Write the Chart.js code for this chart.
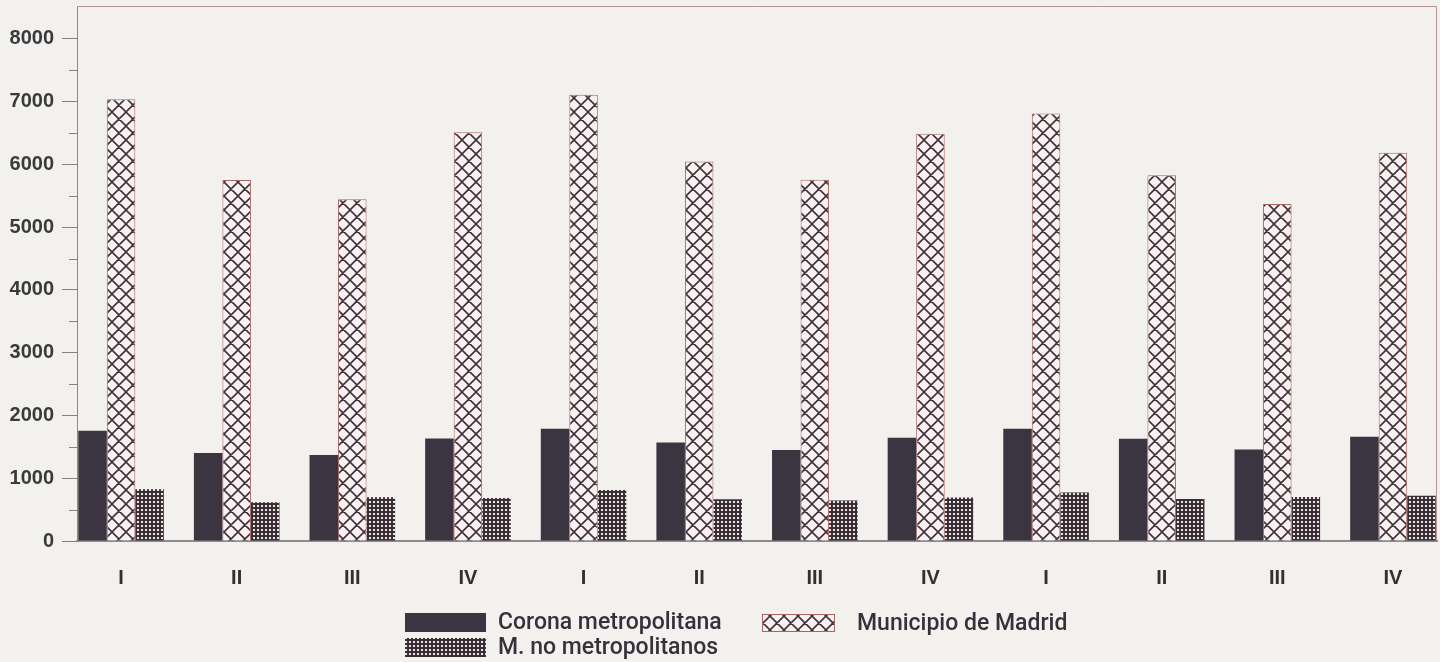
<!DOCTYPE html>
<html>
<head>
<meta charset="utf-8">
<script src="https://cdn.jsdelivr.net/npm/chart.js@4.4.0/dist/chart.umd.min.js"></script>
<style>
  html, body { margin: 0; padding: 0; background: #f3f1ee; }
  canvas { display: block; }
</style>
</head>
<body>
<canvas id="grafico" width="1440" height="662"></canvas>
<script>
// datos
const trimestres = ["I", "II", "III", "IV", "I", "II", "III", "IV", "I", "II", "III", "IV"];
const corona = [1757, 1402, 1370, 1634, 1789, 1571, 1450, 1646, 1789, 1630, 1460, 1661];
const municipio = [7040, 5752, 5445, 6515, 7110, 6049, 5758, 6490, 6812, 5827, 5370, 6188];
const noMetro = [824, 617, 696, 687, 814, 665, 644, 692, 771, 671, 703, 723];
const ticksY = [0, 1000, 2000, 3000, 4000, 5000, 6000, 7000, 8000];
const ticksMenores = [500, 1500, 2500, 3500, 4500, 5500, 6500, 7500];

const canvas = document.getElementById("grafico");
const ctx = canvas.getContext("2d");

function tramaCruz() {
  const c = document.createElement("canvas");
  c.width = 14;
  c.height = 14;
  const g = c.getContext("2d");
  g.fillStyle = "#f7f2f1";
  g.fillRect(0, 0, 14, 14);
  g.strokeStyle = "#43303a";
  g.lineWidth = 1.6;
  g.beginPath();
  for (const k of [-14, 0, 14]) {
    g.moveTo(k, 0);
    g.lineTo(k + 14, 14);
    g.moveTo(k + 14, 0);
    g.lineTo(k, 14);
  }
  g.stroke();
  return ctx.createPattern(c, "repeat");
}

function tramaPuntos() {
  const c = document.createElement("canvas");
  c.width = 4;
  c.height = 4;
  const g = c.getContext("2d");
  g.fillStyle = "#3a2f37";
  g.fillRect(0, 0, 4, 4);
  g.fillStyle = "#ece5e2";
  g.fillRect(1, 1, 2, 2);
  return ctx.createPattern(c, "repeat");
}

const oscuro = "#3b3541";
const cruz = tramaCruz();
const puntos = tramaPuntos();

// marco superior/derecho y marcas menores del eje y
const marco = {
  id: "marco",
  afterDraw(chart) {
    const { ctx, chartArea: a } = chart;
    const y = chart.scales.y;
    ctx.save();
    ctx.strokeStyle = "#b89494";
    ctx.lineWidth = 1;
    ctx.beginPath();
    ctx.moveTo(a.left, a.top + 0.5);
    ctx.lineTo(a.right - 0.5, a.top + 0.5);
    ctx.lineTo(a.right - 0.5, a.bottom);
    ctx.stroke();
    ctx.strokeStyle = "#8a8080";
    ctx.beginPath();
    ticksMenores.forEach((v) => {
      const py = Math.round(y.getPixelForValue(v)) + 0.5;
      ctx.moveTo(a.left - 8, py);
      ctx.lineTo(a.left, py);
    });
    ctx.stroke();
    ctx.restore();
  },
};

// leyenda en dos columnas como el original
const posLeyenda = [
  { x: 405, y: 613, w: 81, h: 19, tx: 498 },
  { x: 762, y: 614, w: 73, h: 18, tx: 857 },
  { x: 405, y: 638, w: 81, h: 19, tx: 498 },
];
const leyenda = {
  id: "leyenda",
  afterDraw(chart) {
    const ctx = chart.ctx;
    ctx.save();
    chart.data.datasets.forEach((ds, i) => {
      const p = posLeyenda[i];
      ctx.fillStyle = ds.backgroundColor;
      ctx.fillRect(p.x, p.y, p.w, p.h);
      if (ds.borderWidth) {
        ctx.strokeStyle = ds.borderColor;
        ctx.lineWidth = 1;
        ctx.strokeRect(p.x + 0.5, p.y + 0.5, p.w - 1, p.h - 1);
      }
      ctx.fillStyle = "#35303a";
      ctx.font = "500 23px Roboto, 'Liberation Sans', Arial, sans-serif";
      ctx.textBaseline = "middle";
      ctx.fillText(ds.label, p.tx, p.y + p.h / 2 + 1);
    });
    ctx.restore();
  },
};

const serie = (arr) => arr.map((v, i) => ({ x: i, y: v }));

new Chart(ctx, {
  type: "bar",
  data: {
    datasets: [
      {
        label: "Corona metropolitana",
        data: serie(corona),
        backgroundColor: oscuro,
        borderWidth: 0,
      },
      {
        label: "Municipio de Madrid",
        data: serie(municipio),
        backgroundColor: cruz,
        borderColor: "#a8645f",
        borderWidth: 1,
      },
      {
        label: "M. no metropolitanos",
        data: serie(noMetro),
        backgroundColor: puntos,
        borderWidth: 0,
      },
    ],
  },
  options: {
    responsive: false,
    animation: false,
    devicePixelRatio: 1,
    categoryPercentage: 0.74,
    barPercentage: 1,
    layout: { padding: { top: 6, right: 3, left: 0, bottom: 0 } },
    plugins: {
      legend: { display: false },
      tooltip: { enabled: false },
    },
    scales: {
      x: {
        type: "linear",
        min: -0.381,
        max: 11.381,
        offset: false,
        afterBuildTicks: (s) => {
          s.ticks = trimestres.map((t, i) => ({ value: i }));
        },
        afterFit: (s) => {
          s.height = 121;
          s.paddingLeft = 0;
          s.paddingRight = 0;
        },
        grid: { display: false },
        border: { display: true, color: "#8e8a92", width: 2 },
        ticks: {
          autoSkip: false,
          maxRotation: 0,
          padding: 17,
          color: "#333033",
          font: { family: "'Liberation Sans', Arial, sans-serif", size: 20, weight: "bold" },
          callback: (v, i) => trimestres[i],
        },
      },
      y: {
        min: 0,
        max: 8525,
        afterBuildTicks: (s) => {
          s.ticks = ticksY.map((v) => ({ value: v }));
        },
        afterFit: (s) => {
          s.width = 77;
          s.paddingTop = 0;
          s.paddingBottom = 0;
        },
        grid: {
          drawOnChartArea: false,
          drawTicks: true,
          tickLength: 15,
          tickColor: "#8a8080",
          tickWidth: 1,
        },
        border: { display: true, color: "#9a8284", width: 1 },
        ticks: {
          padding: 8,
          color: "#3a3a3c",
          font: { family: "'Liberation Sans', Arial, sans-serif", size: 20, weight: "bold" },
          callback: (v) => String(v),
        },
      },
    },
  },
  plugins: [marco, leyenda],
});
</script>
</body>
</html>
